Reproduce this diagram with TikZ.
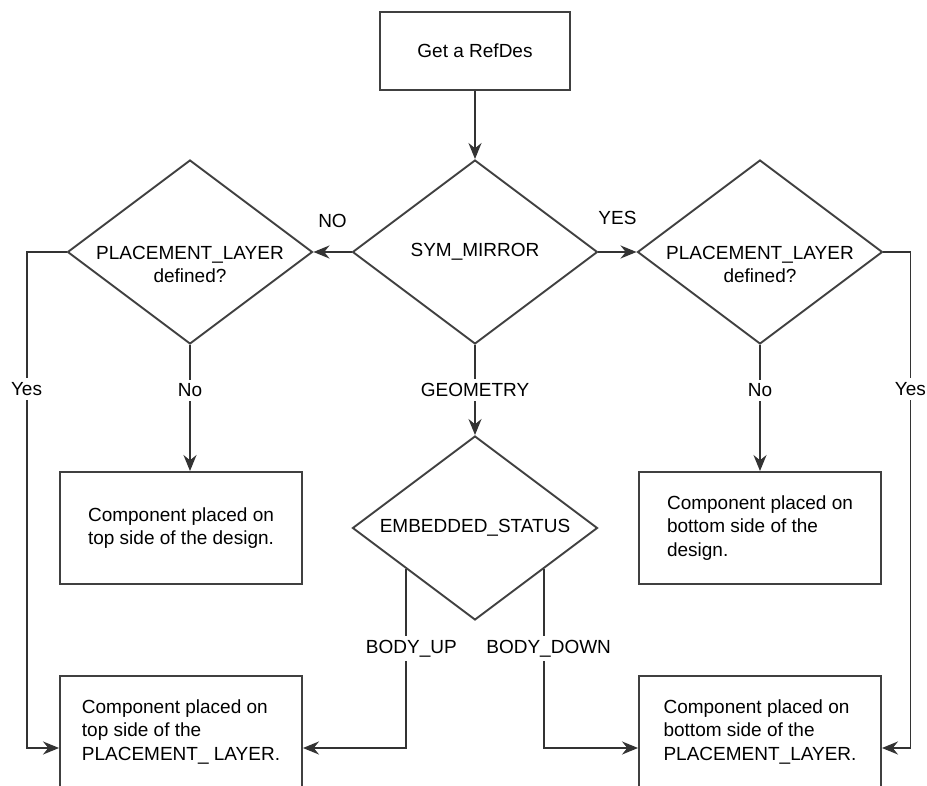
\documentclass[tikz,border=0pt]{standalone}
\usepackage{fontspec}
\setmainfont{Liberation Sans}
\usetikzlibrary{calc, shapes.geometric, arrows.meta, positioning}
\tikzset{
    rectanglenode/.style = {draw=black!75, line width=1.9pt, rectangle, inner sep = 0em, node distance=0em,
      minimum width=242pt, minimum height=112pt, align=left},
    diamondnode/.style = {draw=black!75, line width=1.9pt, diamond, shape aspect=1.33, inner sep = 0em,
      node distance=0em, minimum width=245pt, minimum height=184pt, align=center},
    textnode/.style  = {draw=none, fill=white, rectangle, inner sep = 0.4em},
    connect/.style = {draw=black!80, line width=1.9pt, ->}
}
\begin{document}
\begin{tikzpicture}[x=1pt, y=1pt, >={Stealth[length=16pt, width=13pt]},
    font=\fontsize{19pt}{23.7pt}\selectfont]
    \useasboundingbox (0,0) rectangle (927,-786);
    \clip (0,0) rectangle (927,-786);

    \node [name=sym, diamondnode] at (475,-252) {SYM\_MIRROR};
    \node [name=ref, rectanglenode, minimum width=190pt, minimum height=78pt, above of=sym, yshift=201pt] {Get a RefDes};
    \node [name=plleft, diamondnode, text height=62pt, text depth=0pt, inner ysep=-14pt, left of=sym, xshift=-285pt] {PLACEMENT\_LAYER\\defined?};
    \node [name=plright, diamondnode, text height=62pt, text depth=0pt, inner ysep=-14pt, right of=sym, xshift=285pt] {PLACEMENT\_LAYER\\defined?};
    \node [name=emb, diamondnode, below of=sym, yshift=-276pt] {EMBEDDED\_STATUS};

    \node [name=topdesign, rectanglenode, below of=plleft, xshift=-9pt, yshift=-276pt] {Component placed on\\top side of the design.};
    \node [name=botdesign, rectanglenode, below of=plright, yshift=-276pt] {Component placed on\\bottom side of the\\design.};
    \node [name=toplayer, rectanglenode, below of=topdesign, yshift=-204pt] {Component placed on\\top side of the\\PLACEMENT\_ LAYER.};
    \node [name=botlayer, rectanglenode, below of=botdesign, yshift=-204pt] {Component placed on\\bottom side of the\\PLACEMENT\_LAYER.};

    \draw (ref) edge[connect] (sym);
    \draw[connect] (sym) -- node[textnode, yshift=31pt] {NO} (plleft);
    \draw[connect] (sym) -- node[textnode, yshift=34pt] {YES} (plright);
    \draw[connect] (sym) -- node[textnode] {GEOMETRY} (emb);

    \draw[connect] (plleft) -- node[textnode, pos=0.36] {No} (plleft |- topdesign.north);
    \draw[connect] (plright) -- node[textnode, pos=0.36] {No} (botdesign);
    \draw[connect] (plleft.west) -- ++(-40,0) |- node[textnode, pos=0.138] {Yes} ($(toplayer.west)+(0,-16)$);
    \draw[connect] (plright.east) -- ++(27,0) |- node[textnode, pos=0.138] {Yes} ($(botlayer.east)+(0,-16)$);

    \draw[connect] (emb.211) |- node[textnode, pos=0.222, xshift=5pt] {BODY\_UP} ($(toplayer.east)+(0,-16)$);
    \draw[connect] (emb.329) |- node[textnode, pos=0.222, xshift=5pt] {BODY\_DOWN} ($(botlayer.west)+(0,-16)$);
\end{tikzpicture}
\end{document}
